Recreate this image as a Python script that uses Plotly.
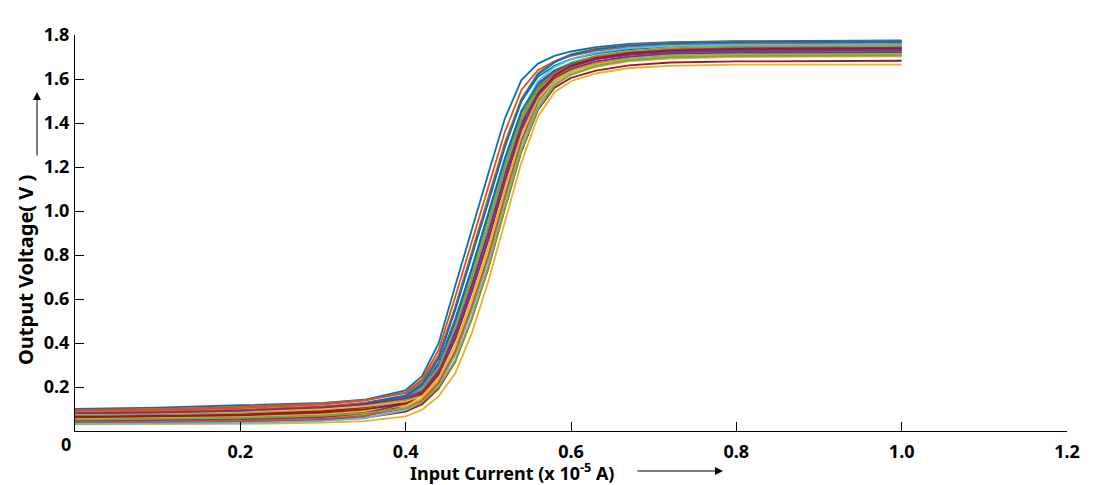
import plotly.graph_objects as go

# Input current grid (x 1e-5 A)
x_current = [0, 0.1, 0.2, 0.3, 0.35, 0.40, 0.42, 0.44, 0.46, 0.48, 0.50,
             0.52, 0.54, 0.56, 0.58, 0.60, 0.63, 0.67, 0.72, 0.80, 1.00]

# Monte Carlo output voltage curves (V)
run_01 = [0.100, 0.106, 0.117, 0.128, 0.142, 0.185, 0.25, 0.40, 0.66, 0.92, 1.17, 1.42, 1.595, 1.67, 1.705, 1.725, 1.745, 1.760, 1.768, 1.772, 1.775]
run_02 = [0.090, 0.095, 0.104, 0.120, 0.138, 0.175, 0.235, 0.37, 0.61, 0.86, 1.11, 1.36, 1.55, 1.64, 1.68, 1.705, 1.728, 1.745, 1.755, 1.762, 1.765]
run_03 = [0.082, 0.086, 0.095, 0.110, 0.128, 0.162, 0.215, 0.34, 0.56, 0.80, 1.05, 1.30, 1.50, 1.61, 1.66, 1.69, 1.715, 1.735, 1.748, 1.755, 1.758]
run_04 = [0.075, 0.079, 0.088, 0.104, 0.122, 0.158, 0.21, 0.33, 0.55, 0.79, 1.04, 1.29, 1.50, 1.62, 1.675, 1.71, 1.735, 1.752, 1.762, 1.768, 1.770]
run_05 = [0.070, 0.074, 0.082, 0.098, 0.115, 0.150, 0.20, 0.31, 0.51, 0.74, 0.99, 1.24, 1.455, 1.58, 1.64, 1.672, 1.70, 1.72, 1.732, 1.738, 1.740]
run_06 = [0.060, 0.063, 0.070, 0.086, 0.104, 0.143, 0.195, 0.30, 0.50, 0.73, 0.98, 1.23, 1.45, 1.59, 1.655, 1.69, 1.72, 1.74, 1.75, 1.755, 1.757]
run_07 = [0.066, 0.069, 0.076, 0.090, 0.108, 0.138, 0.185, 0.285, 0.465, 0.685, 0.925, 1.185, 1.41, 1.55, 1.62, 1.655, 1.69, 1.71, 1.722, 1.728, 1.730]
run_08 = [0.055, 0.058, 0.064, 0.078, 0.095, 0.133, 0.18, 0.28, 0.46, 0.68, 0.92, 1.18, 1.41, 1.56, 1.635, 1.675, 1.705, 1.725, 1.738, 1.745, 1.748]
run_09 = [0.072, 0.076, 0.083, 0.098, 0.114, 0.143, 0.19, 0.29, 0.47, 0.69, 0.93, 1.19, 1.415, 1.55, 1.615, 1.648, 1.678, 1.698, 1.71, 1.715, 1.718]
run_10 = [0.050, 0.053, 0.058, 0.070, 0.086, 0.123, 0.165, 0.255, 0.415, 0.63, 0.865, 1.13, 1.365, 1.52, 1.60, 1.638, 1.672, 1.695, 1.708, 1.714, 1.716]
run_11 = [0.062, 0.065, 0.071, 0.084, 0.098, 0.126, 0.168, 0.258, 0.42, 0.635, 0.87, 1.135, 1.37, 1.53, 1.615, 1.66, 1.695, 1.718, 1.73, 1.737, 1.740]
run_12 = [0.045, 0.047, 0.052, 0.062, 0.076, 0.108, 0.145, 0.225, 0.365, 0.57, 0.80, 1.07, 1.32, 1.49, 1.58, 1.62, 1.655, 1.68, 1.693, 1.70, 1.703]
run_13 = [0.040, 0.042, 0.046, 0.056, 0.069, 0.103, 0.14, 0.22, 0.36, 0.565, 0.795, 1.065, 1.32, 1.50, 1.595, 1.64, 1.675, 1.70, 1.712, 1.72, 1.722]
run_14 = [0.036, 0.037, 0.040, 0.049, 0.060, 0.088, 0.122, 0.193, 0.315, 0.51, 0.74, 1.01, 1.27, 1.46, 1.56, 1.605, 1.638, 1.662, 1.675, 1.68, 1.683]
run_15 = [0.030, 0.030, 0.032, 0.038, 0.045, 0.066, 0.097, 0.158, 0.262, 0.445, 0.68, 0.95, 1.22, 1.43, 1.54, 1.59, 1.625, 1.65, 1.66, 1.665, 1.665]
run_16 = [0.080, 0.084, 0.092, 0.108, 0.122, 0.148, 0.18, 0.262, 0.425, 0.64, 0.875, 1.14, 1.375, 1.525, 1.605, 1.645, 1.68, 1.702, 1.715, 1.72, 1.722]
run_17 = [0.048, 0.050, 0.056, 0.070, 0.088, 0.133, 0.19, 0.30, 0.50, 0.735, 0.985, 1.235, 1.45, 1.575, 1.635, 1.668, 1.695, 1.712, 1.722, 1.726, 1.728]
run_18 = [0.058, 0.061, 0.067, 0.078, 0.091, 0.116, 0.15, 0.228, 0.37, 0.575, 0.805, 1.075, 1.325, 1.495, 1.585, 1.63, 1.668, 1.69, 1.702, 1.708, 1.710]
run_19 = [0.035, 0.037, 0.041, 0.052, 0.068, 0.118, 0.17, 0.275, 0.455, 0.675, 0.915, 1.175, 1.40, 1.545, 1.625, 1.665, 1.70, 1.722, 1.735, 1.742, 1.745]
run_20 = [0.052, 0.055, 0.060, 0.070, 0.081, 0.103, 0.132, 0.20, 0.32, 0.515, 0.745, 1.015, 1.275, 1.465, 1.57, 1.62, 1.66, 1.685, 1.698, 1.705, 1.708]
run_21 = [0.068, 0.071, 0.079, 0.094, 0.112, 0.147, 0.197, 0.30, 0.49, 0.715, 0.96, 1.21, 1.43, 1.565, 1.63, 1.665, 1.70, 1.725, 1.74, 1.747, 1.750]
run_22 = [0.043, 0.045, 0.050, 0.063, 0.080, 0.125, 0.175, 0.272, 0.445, 0.66, 0.90, 1.16, 1.39, 1.54, 1.615, 1.655, 1.69, 1.712, 1.725, 1.732, 1.735]
run_23 = [0.077, 0.080, 0.087, 0.100, 0.112, 0.135, 0.16, 0.24, 0.39, 0.60, 0.835, 1.10, 1.345, 1.51, 1.595, 1.64, 1.678, 1.70, 1.712, 1.718, 1.720]
run_24 = [0.095, 0.100, 0.110, 0.124, 0.140, 0.172, 0.225, 0.345, 0.565, 0.81, 1.06, 1.31, 1.51, 1.625, 1.68, 1.712, 1.738, 1.755, 1.765, 1.770, 1.772]
run_25 = [0.033, 0.034, 0.037, 0.046, 0.058, 0.095, 0.135, 0.21, 0.345, 0.545, 0.775, 1.045, 1.30, 1.48, 1.575, 1.62, 1.66, 1.688, 1.70, 1.706, 1.708]
run_26 = [0.085, 0.089, 0.097, 0.112, 0.126, 0.150, 0.19, 0.288, 0.468, 0.688, 0.928, 1.188, 1.412, 1.555, 1.625, 1.662, 1.698, 1.72, 1.732, 1.738, 1.740]

runs = [run_01, run_02, run_15, run_05, run_08, run_10, run_14,
        run_03, run_24, run_12, run_19, run_21, run_06, run_07,
        run_17, run_26, run_18, run_22, run_09, run_25, run_11,
        run_04, run_13, run_23, run_16, run_20]

x_ticks = [0, 0.2, 0.4, 0.6, 0.8, 1.0, 1.2]
x_tick_text = ["", "0.2", "0.4", "0.6", "0.8", "1.0", "1.2"]
y_ticks = [0.2, 0.4, 0.6, 0.8, 1.0, 1.2, 1.4, 1.6, 1.8]
y_tick_text = ["0.2", "0.4", "0.6", "0.8", "1.0", "1.2", "1.4", "1.6", "1.8"]

colors = ['#0072BD', '#D95319', '#EDB120', '#7E2F8E', '#77AC30', '#4DBEEE', '#A2142F']

FONT = "Noto Sans"
W, H = 1104, 485
L, R, T, B = 75, 37, 35, 54
pw, ph = W - L - R, H - T - B


def px(xp):
    return (xp - L) / pw


def py(yp):
    return (H - B - yp) / ph


fig = go.Figure()
for i, r in enumerate(runs):
    fig.add_trace(go.Scatter(x=x_current, y=r, mode="lines",
                             line=dict(color=colors[i % len(colors)], width=1.8),
                             showlegend=False, hoverinfo="skip"))

axis_font = dict(family=FONT, size=18, color="black", weight="bold")

fig.update_layout(
    width=W, height=H,
    margin=dict(l=L, r=R, t=T, b=B),
    paper_bgcolor="white", plot_bgcolor="white",
    showlegend=False,
    xaxis=dict(range=[0, 1.2], tickvals=x_ticks, ticktext=x_tick_text,
               ticks="inside", ticklen=9, tickwidth=1, tickcolor="black",
               showline=True, linecolor="black", linewidth=1,
               showgrid=False, zeroline=False, tickfont=axis_font,
               ticklabelstandoff=4),
    yaxis=dict(range=[0, 1.8], tickvals=y_ticks, ticktext=y_tick_text,
               ticks="inside", ticklen=9, tickwidth=1, tickcolor="black",
               showline=True, linecolor="black", linewidth=1,
               showgrid=False, zeroline=False, tickfont=axis_font,
               ticklabelstandoff=1),
)

# Origin label
fig.add_annotation(x=px(66), y=py(444), xref="paper", yref="paper", text="0",
                   xanchor="center", yanchor="middle", showarrow=False, font=axis_font)

# Y axis title (rotated)
fig.add_annotation(x=px(25), y=py(270), xref="paper", yref="paper",
                   text="Output Voltage( V )", showarrow=False, textangle=-90,
                   xanchor="center", yanchor="middle",
                   font=dict(family=FONT, size=20, color="black", weight="bold"))
# X axis title
fig.add_annotation(x=px(512), y=py(472), xref="paper", yref="paper",
                   text="Input Current (x 10<sup>-5</sup> A)", showarrow=False,
                   xanchor="center", yanchor="middle",
                   font=dict(family=FONT, size=18, color="black", weight="bold"))

# Arrows (tail offsets in pixels)
fig.add_annotation(x=px(37), y=py(92), xref="paper", yref="paper",
                   ax=0, ay=65, showarrow=True, arrowhead=2,
                   arrowsize=1.6, arrowwidth=1, arrowcolor="black", text="")
fig.add_annotation(x=px(723), y=py(471), xref="paper", yref="paper",
                   ax=-87, ay=0, showarrow=True, arrowhead=2,
                   arrowsize=1.6, arrowwidth=1, arrowcolor="black", text="")

fig.write_html("out.html")
